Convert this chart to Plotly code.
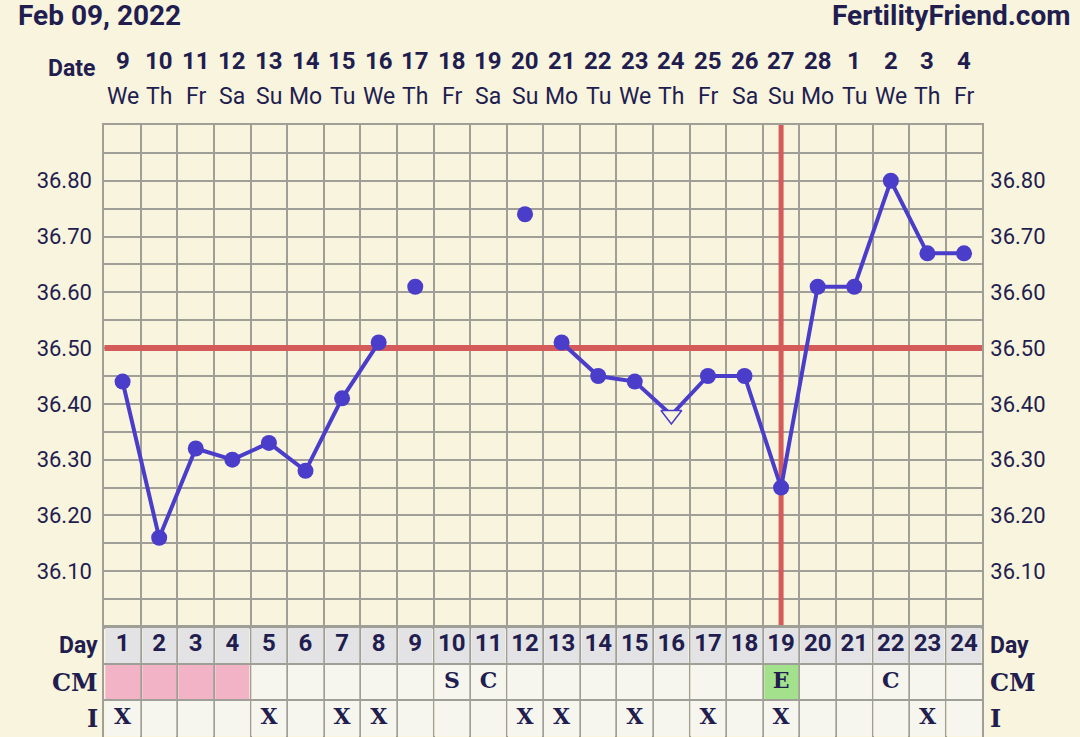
import plotly.graph_objects as go

# ---- chart data ----
cycle_days = list(range(1, 25))
date_labels = ['9', '10', '11', '12', '13', '14', '15', '16', '17', '18', '19', '20',
               '21', '22', '23', '24', '25', '26', '27', '28', '1', '2', '3', '4']
weekday_labels = ['We', 'Th', 'Fr', 'Sa', 'Su', 'Mo', 'Tu', 'We', 'Th', 'Fr', 'Sa', 'Su',
                  'Mo', 'Tu', 'We', 'Th', 'Fr', 'Sa', 'Su', 'Mo', 'Tu', 'We', 'Th', 'Fr']
temps = [36.44, 36.16, 36.32, 36.30, 36.33, 36.28, 36.41, 36.51, 36.61, None, None, 36.74,
         36.51, 36.45, 36.44, 36.38, 36.45, 36.45, 36.25, 36.61, 36.61, 36.80, 36.67, 36.67]
discarded_days = [9, 12]
questionable_days = [16]
coverline = 36.50
ovulation_day = 19
period_days = [1, 2, 3, 4]
cm_codes = ['', '', '', '', '', '', '', '', '', 'S', 'C', '', '', '', '', '', '', '',
            'E', '', '', 'C', '', '']
intercourse_days = [1, 5, 7, 8, 12, 13, 15, 17, 19, 23]
temp_ticks = [36.10, 36.20, 36.30, 36.40, 36.50, 36.60, 36.70, 36.80]
temp_range = [36.0, 36.9]

chart_date = 'Feb 09, 2022'
site_name = 'FertilityFriend.com'

# ---- styling ----
BG = '#f8f4de'
GRID = '#a09f97'
INK = '#221d4f'
BLUE = '#4a3dca'
RED = '#d55b5b'
SANS = 'Roboto'
SERIF = 'DejaVu Serif'

X_DOM = [104.3 / 1080, 982.3 / 1080]
TEMP_DOM = [1 - 627 / 737, 1 - 125 / 737]
TABLE_DOM = [0, 1 - 627 / 737]
x_range = [cycle_days[0] - 0.5, cycle_days[-1] + 0.5]

fig = go.Figure()

# coverline and ovulation line (drawn first so the temps sit on top)
fig.add_trace(go.Scatter(
    x=x_range, y=[coverline, coverline], mode='lines',
    line=dict(color=RED, width=6), showlegend=False, hoverinfo='skip'
))
fig.add_trace(go.Scatter(
    x=[ovulation_day, ovulation_day], y=temp_range, mode='lines',
    line=dict(color=RED, width=5), showlegend=False, hoverinfo='skip'
))

# connected temperatures (discarded ones are drawn on their own)
line_y = [None if d in discarded_days else t for d, t in zip(cycle_days, temps)]
symbols = ['triangle-down' if d in questionable_days else 'circle' for d in cycle_days]
mcolors = [BG if d in questionable_days else BLUE for d in cycle_days]
msizes = [18 if d in questionable_days else 16 for d in cycle_days]
mlw = [1.5 if d in questionable_days else 0 for d in cycle_days]

fig.add_trace(go.Scatter(
    x=cycle_days, y=line_y,
    mode='lines+markers',
    line=dict(color=BLUE, width=4),
    marker=dict(symbol=symbols, size=msizes, color=mcolors, opacity=1,
                line=dict(color=BLUE, width=mlw)),
    connectgaps=False,
    showlegend=False,
    hovertemplate='Day %{x}<br>%{y:.2f}<extra></extra>'
))

fig.add_trace(go.Scatter(
    x=discarded_days,
    y=[temps[d - 1] for d in discarded_days],
    mode='markers',
    marker=dict(size=16, color=BLUE),
    showlegend=False,
    hovertemplate='Day %{x}<br>%{y:.2f}<extra></extra>'
))

# empty trace so the right-hand temperature axis is drawn
fig.add_trace(go.Scatter(x=[None], y=[None], yaxis='y3', showlegend=False,
                         hoverinfo='skip'))

# ---- table below the chart ----
cm_fill = []
for d, c in zip(cycle_days, cm_codes):
    if d in period_days:
        cm_fill.append(2)
    elif c == 'E':
        cm_fill.append(3)
    else:
        cm_fill.append(1)
z = [[1] * len(cycle_days), cm_fill, [0] * len(cycle_days)]

fig.add_trace(go.Heatmap(
    x=cycle_days, y=[0, 1, 2], z=z,
    xaxis='x2', yaxis='y2',
    zmin=-0.5, zmax=3.5,
    colorscale=[[0, '#e3e3e5'], [0.25, '#e3e3e5'],
                [0.25, '#f6f6ef'], [0.5, '#f6f6ef'],
                [0.5, '#f2b3c6'], [0.75, '#f2b3c6'],
                [0.75, '#a4e18c'], [1, '#a4e18c']],
    showscale=False, xgap=2, ygap=2, hoverinfo='skip'
))

fig.add_trace(go.Scatter(
    x=cycle_days, y=[2] * len(cycle_days),
    text=[str(d) for d in cycle_days],
    mode='text', xaxis='x2', yaxis='y2',
    textfont=dict(family=SANS, size=24, color=INK, weight='bold'),
    showlegend=False, hoverinfo='skip'
))
fig.add_trace(go.Scatter(
    x=cycle_days, y=[1] * len(cycle_days), text=cm_codes,
    mode='text', xaxis='x2', yaxis='y2',
    textfont=dict(family=SERIF, size=22, color=INK, weight='bold'),
    showlegend=False, hoverinfo='skip'
))
fig.add_trace(go.Scatter(
    x=intercourse_days, y=[0] * len(intercourse_days),
    text=['X'] * len(intercourse_days),
    mode='text', xaxis='x2', yaxis='y2',
    textfont=dict(family=SERIF, size=22, color=INK, weight='bold'),
    showlegend=False, hoverinfo='skip'
))

# ---- header texts ----
for d, num, wd in zip(cycle_days, date_labels, weekday_labels):
    fig.add_annotation(x=d, xref='x', y=1 - 61 / 737, yref='paper', text=num,
                       showarrow=False, yanchor='middle',
                       font=dict(family=SANS, size=24, color=INK, weight='bold'))
    fig.add_annotation(x=d, xref='x', y=1 - 97 / 737, yref='paper', text=wd,
                       showarrow=False, yanchor='middle',
                       font=dict(family=SANS, size=23, color=INK))

fig.add_annotation(x=97 / 1080, xref='paper', y=1 - 68 / 737, yref='paper', text='Date',
                   showarrow=False, xanchor='right', yanchor='middle',
                   font=dict(family=SANS, size=23, color=INK, weight='bold'))
fig.add_annotation(x=16 / 1080, xref='paper', y=1 - 15 / 737, yref='paper', text=chart_date,
                   showarrow=False, xanchor='left', yanchor='middle',
                   font=dict(family=SANS, size=28, color=INK, weight='bold'))
fig.add_annotation(x=1072 / 1080, xref='paper', y=1 - 15 / 737, yref='paper', text=site_name,
                   showarrow=False, xanchor='right', yanchor='middle',
                   font=dict(family=SANS, size=28, color=INK, weight='bold'))

row_labels = [('Day', 2, SANS, 23), ('CM', 1, SERIF, 24), ('I', 0, SERIF, 24)]
for label, row, fam, size in row_labels:
    fig.add_annotation(x=100 / 1080, xref='paper', y=row, yref='y2', text=label,
                       showarrow=False, xanchor='right', yanchor='middle',
                       font=dict(family=fam, size=size, color=INK, weight='bold'))
    fig.add_annotation(x=988 / 1080, xref='paper', y=row, yref='y2', text=label,
                       showarrow=False, xanchor='left', yanchor='middle',
                       font=dict(family=fam, size=size, color=INK, weight='bold'))

grid_axis = dict(showgrid=True, gridcolor=GRID, gridwidth=2, zeroline=False,
                 showline=True, mirror=True, linecolor=GRID, linewidth=2)

fig.update_layout(
    width=1080, height=737, autosize=False,
    margin=dict(l=0, r=0, t=0, b=0),
    paper_bgcolor=BG, plot_bgcolor=BG,
    showlegend=False,
    xaxis=dict(domain=X_DOM, range=x_range, anchor='y',
               tick0=0.5, dtick=1, showticklabels=False, ticks='', **grid_axis),
    yaxis=dict(domain=TEMP_DOM, range=temp_range, anchor='x',
               tickvals=temp_ticks, tickformat='.2f', ticks='',
               ticklabelstandoff=6,
               tickfont=dict(family=SANS, size=22, color=INK),
               minor=dict(dtick=0.05, tick0=36.0, showgrid=True,
                          gridcolor=GRID, gridwidth=2),
               **grid_axis),
    yaxis3=dict(overlaying='y', side='right', range=temp_range, anchor='x',
                tickvals=temp_ticks, tickformat='.2f', ticks='',
                ticklabelstandoff=7,
                tickfont=dict(family=SANS, size=22, color=INK),
                showgrid=False, zeroline=False),
    xaxis2=dict(domain=X_DOM, range=x_range, anchor='y2',
                tick0=0.5, dtick=1, showticklabels=False, ticks='', **grid_axis),
    yaxis2=dict(domain=TABLE_DOM, range=[-0.5, 2.5], anchor='x2',
                tick0=-0.5, dtick=1, showticklabels=False, ticks='', **grid_axis),
)

fig.write_html("out.html", config={'displayModeBar': False},
               post_script="document.body.style.margin = '0';")
